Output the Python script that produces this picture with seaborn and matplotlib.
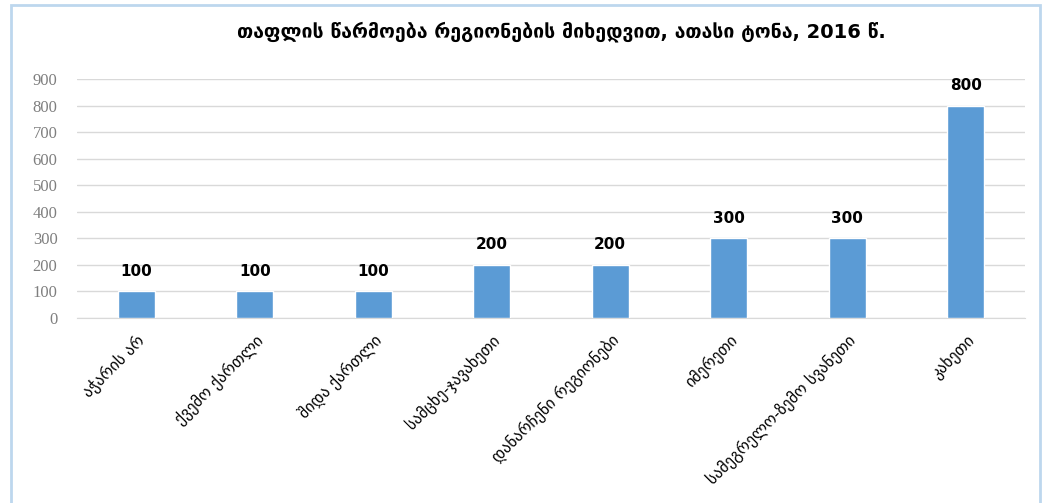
import matplotlib.pyplot as plt
import matplotlib.patches as mpatches
import seaborn as sns
import pandas as pd

regions = ['აჭარის არ', 'ქვემო ქართლი', 'შიდა ქართლი', 'სამცხე-ჯავახეთი',
           'დანარჩენი რეგიონები', 'იმერეთი', 'სამეგრელო-ზემო სვანეთი', 'კახეთი']
production = [100, 100, 100, 200, 200, 300, 300, 800]
y_ticks = [0, 100, 200, 300, 400, 500, 600, 700, 800, 900]

df = pd.DataFrame({'region': regions, 'production': production})

sns.set_style('white')
plt.rcParams['font.family'] = ['DejaVu Sans']

fig = plt.figure(figsize=(10.54, 5.03), dpi=100)
ax = fig.add_axes([0.073, 0.368, 0.8995, 0.475])

sns.barplot(data=df, x='region', y='production', color='#5B9BD5',
            width=0.31, saturation=1, ax=ax, zorder=3)

ax.set_ylim(0, 900)
ax.set_yticks(y_ticks)
ax.set_yticklabels([str(t) for t in y_ticks], family='Liberation Serif',
                   fontsize=12, color='#7F7F7F')
ax.yaxis.grid(True, color='#D9D9D9', linewidth=1, zorder=0)
ax.tick_params(axis='both', length=0)
ax.tick_params(axis='y', pad=14)
for side in ['top', 'right', 'left']:
    ax.spines[side].set_visible(False)
ax.spines['bottom'].set_color('#D9D9D9')
ax.set_xlabel('')
ax.set_ylabel('')

plt.setp(ax.get_xticklabels(), rotation=45, ha='right', rotation_mode='anchor',
         fontsize=11.5, color='#000000')
ax.tick_params(axis='x', pad=10)

for container in ax.containers:
    ax.bar_label(container, padding=9, fontsize=11, fontweight='bold',
                 color='black', family=['Liberation Sans Narrow', 'DejaVu Sans'])

fig.text(0.533, 0.938, 'თაფლის წარმოება რეგიონების მიხედვით, ათასი ტონა, 2016 წ.',
         ha='center', va='center', fontsize=14, fontweight='bold', color='black')

border = mpatches.Rectangle((0.01, -0.05), 0.977, 1.04, transform=fig.transFigure,
                            fill=False, edgecolor='#BDD7EE', linewidth=2)
fig.patches.append(border)

fig.savefig('out.png', dpi=100)
